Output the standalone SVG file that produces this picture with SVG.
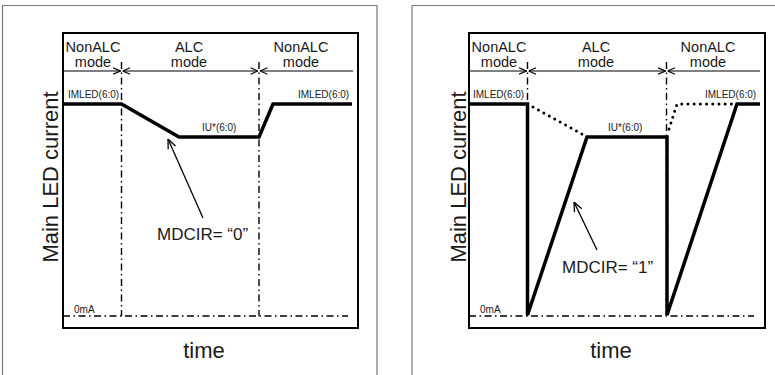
<svg xmlns="http://www.w3.org/2000/svg" width="775" height="375" viewBox="0 0 775 375">
<style>
text{font-family:"Liberation Sans",Arial,sans-serif;fill:#1a1a1a}
.frame{fill:none;stroke:#7a7a7a;stroke-width:1.2}
.box{fill:none;stroke:#000;stroke-width:2}
.div{fill:none;stroke:#000;stroke-width:1.2}
.dd{fill:none;stroke:#000;stroke-width:1.4;stroke-dasharray:7 3.5 1.5 3.5}
.sig{fill:none;stroke:#000;stroke-width:3.5;stroke-linejoin:miter}
.dot{fill:none;stroke:#000;stroke-width:3;stroke-linecap:round;stroke-dasharray:0 6.2}
.ann{fill:none;stroke:#000;stroke-width:1.3}
.hdr{font-size:14.5px;text-anchor:middle}
.sm{font-size:10px}
.mid{text-anchor:middle}
.ax{font-size:22px;text-anchor:middle}
.md{font-size:17px}
</style>
<defs>
<marker id="tk" viewBox="0 0 8 8" refX="8" refY="4" markerWidth="8" markerHeight="8" markerUnits="userSpaceOnUse" orient="auto-start-reverse">
<path d="M0.5,0.8 L8,4 L0.5,7.2" fill="none" stroke="#000" stroke-width="1.1"/>
</marker>
<marker id="ah" viewBox="0 0 10 10" refX="10" refY="5" markerWidth="10" markerHeight="10" markerUnits="userSpaceOnUse" orient="auto">
<path d="M0.5,1 L10,5 L0.5,9" fill="none" stroke="#000" stroke-width="1.3"/>
</marker>
</defs>

<g id="panel-left">
<path class="frame" d="M2.5,380 V5.5 H377 V380"/>
<rect class="box" x="63" y="33" width="295" height="295"/>
<g id="left-modes">
<text class="hdr" x="93" y="52">NonALC</text>
<text class="hdr" x="93" y="67">mode</text>
<text class="hdr" x="189" y="52">ALC</text>
<text class="hdr" x="189" y="67">mode</text>
<text class="hdr" x="301" y="52">NonALC</text>
<text class="hdr" x="301" y="67">mode</text>
</g>
<g id="left-connectors">
<path class="div" d="M63,71 H120.5" marker-end="url(#tk)"/>
<path class="div" d="M122.5,71 H258" marker-start="url(#tk)" marker-end="url(#tk)"/>
<path class="div" d="M260,71 H353" marker-start="url(#tk)"/>
<path class="dd" d="M121.5,62 V316"/>
<path class="dd" d="M259,62 V316"/>
<path class="dd" d="M63,316 H348"/>
<path class="sig" d="M63,104 H121.5 L179,137 H259 L273,104 H352"/>
<path class="ann" d="M203,218 L168,139" marker-end="url(#ah)"/>
</g>
<g id="left-labels">
<text class="sm" x="68" y="98">IMLED(6:0)</text>
<text class="sm" x="298" y="98">IMLED(6:0)</text>
<text class="sm" x="202" y="131">IU*(6:0)</text>
<text class="sm" x="74" y="313">0mA</text>
<text class="md" x="157" y="240">MDCIR= “0”</text>
<text class="ax" transform="translate(58,177) rotate(-90)">Main LED current</text>
<text class="ax" x="204" y="358">time</text>
</g>
</g>

<g id="panel-right">
<path class="frame" d="M412,380 V5.5 H780"/>
<rect class="box" x="469" y="33" width="296" height="295"/>
<g id="right-modes">
<text class="hdr" x="499" y="52">NonALC</text>
<text class="hdr" x="596" y="52">ALC</text>
<text class="hdr" x="596" y="67">mode</text>
<text class="hdr" x="499" y="67">mode</text>
<text class="hdr" x="708" y="52">NonALC</text>
<text class="hdr" x="708" y="67">mode</text>
</g>
<g id="right-connectors">
<path class="div" d="M469,71 H526.5" marker-end="url(#tk)"/>
<path class="div" d="M528.5,71 H665.5" marker-start="url(#tk)" marker-end="url(#tk)"/>
<path class="div" d="M667.5,71 H760" marker-start="url(#tk)"/>
<path class="dd" d="M527.5,62 V316"/>
<path class="dd" d="M666.5,62 V316"/>
<path class="dd" d="M469,316 H754"/>
<path class="dot" d="M533,107 L582,134"/>
<path class="dot" d="M669,129 L677,104 H734"/>
<path class="sig" d="M469,104 H527.5 V315 L587,137 H667 V315 L737,104 H760"/>
<path class="ann" d="M597,250 L574,202" marker-end="url(#ah)"/>
</g>
<g id="right-labels">
<text class="sm" x="473" y="98">IMLED(6:0)</text>
<text class="sm" x="705" y="98">IMLED(6:0)</text>
<text class="sm" x="608" y="131">IU*(6:0)</text>
<text class="sm" x="480" y="313">0mA</text>
<text class="md" x="562" y="273">MDCIR= “1”</text>
<text class="ax" transform="translate(466,177) rotate(-90)">Main LED current</text>
<text class="ax" x="611" y="358">time</text>
</g>
</g>
</svg>
